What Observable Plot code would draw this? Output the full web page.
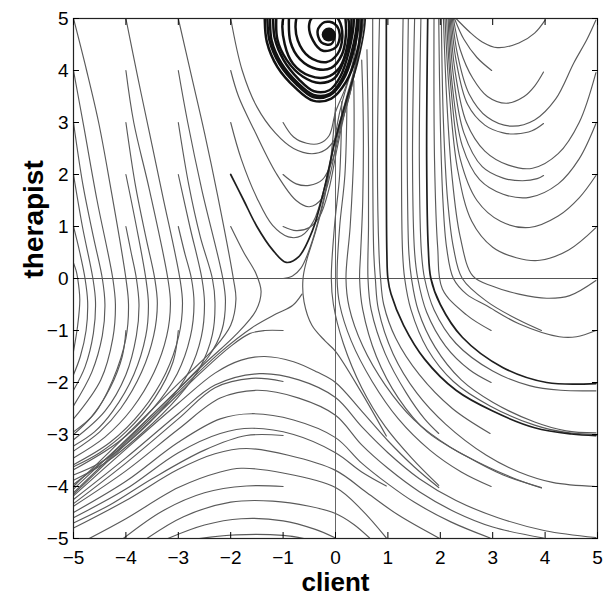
<!DOCTYPE html>
<html>
<head>
<meta charset="utf-8">
<script src="https://cdn.jsdelivr.net/npm/d3@7"></script>
<script src="https://cdn.jsdelivr.net/npm/@observablehq/plot@0.6"></script>
<style>
  html, body { margin: 0; padding: 0; background: #fff; }
</style>
</head>
<body>
<div id="chart"></div>
<script>
// ---------- axis ticks ----------
const xTicks = [-5, -4, -3, -2, -1, 0, 1, 2, 3, 4, 5];
const yTicks = [-5, -4, -3, -2, -1, 0, 1, 2, 3, 4, 5];
const xLabel = "client";
const yLabel = "therapist";

// ---------- streamlines (client, therapist) ----------
// upper-left lines that fall down and bend to the lower-left attractor
const descendingLeft = [
  [[-5,0.3],[-4.95,0.15],[-4.92,0],[-4.88,-0.4],[-4.92,-0.9],[-5,-1.4]],
  [[-5,1],[-4.88,0.5],[-4.78,0],[-4.73,-0.45],[-4.76,-1.0],[-4.87,-1.5],[-5,-1.85]],
  [[-5,2],[-4.83,1],[-4.63,0],[-4.58,-0.45],[-4.62,-1.05],[-4.78,-1.7],[-5,-2.15]],
  [[-5,3],[-4.82,1.8],[-4.62,0.8],[-4.45,0],[-4.4,-0.5],[-4.45,-1.1],[-4.65,-1.8],[-5,-2.45]],
  [[-5,4],[-4.8,2.9],[-4.55,1.5],[-4.25,0],[-4.2,-0.5],[-4.25,-1.15],[-4.48,-1.95],[-5,-2.7]],
  [[-5,5],[-4.75,4.0],[-4.52,3.0],[-4.3,1.8],[-4.0,0],[-3.95,-0.5],[-4.0,-1.15],[-4.25,-1.95],[-4.6,-2.6],[-5,-2.95]],
  [[-4,1],[-3.9,0.5],[-3.8,0],[-3.75,-0.5],[-3.8,-1.1],[-4.0,-1.85],[-4.4,-2.55],[-5,-3.1]],
  [[-4,2],[-3.8,1],[-3.62,0],[-3.57,-0.5],[-3.62,-1.1],[-3.85,-1.85],[-4.25,-2.55],[-4.6,-2.95],[-5,-3.22]],
  [[-4,3],[-3.82,1.8],[-3.62,0.8],[-3.45,0],[-3.4,-0.48],[-3.47,-1.1],[-3.7,-1.8],[-4.1,-2.5],[-4.5,-2.95],[-5,-3.32]],
  [[-4,4],[-3.85,3.0],[-3.55,1.7],[-3.2,0],[-3.15,-0.48],[-3.22,-1.1],[-3.46,-1.8],[-3.88,-2.5],[-4.4,-3.05],[-5,-3.45]],
  [[-4,5],[-3.78,3.9],[-3.55,2.8],[-3.3,1.6],[-2.97,0],[-2.92,-0.48],[-2.99,-1.1],[-3.24,-1.82],[-3.7,-2.55],[-4.3,-3.15],[-5,-3.58]],
  [[-3,1],[-2.88,0.5],[-2.75,0],[-2.7,-0.48],[-2.77,-1.12],[-3.02,-1.83],[-3.5,-2.52],[-4.15,-3.15],[-5,-3.68]],
  [[-3,2],[-2.78,1],[-2.55,0],[-2.5,-0.48],[-2.56,-1.12],[-2.8,-1.8],[-3.25,-2.45],[-3.9,-3.1],[-4.5,-3.55],[-5,-3.78]],
  [[-3,3],[-2.8,1.8],[-2.58,0.8],[-2.35,0],[-2.3,-0.46],[-2.35,-1.08],[-2.58,-1.7],[-3.02,-2.3],[-3.7,-2.98],[-4.4,-3.55],[-5,-3.88]],
  [[-3,4],[-2.82,3.0],[-2.55,1.7],[-2.15,0],[-2.1,-0.44],[-2.17,-1.0],[-2.42,-1.5],[-2.9,-2.02],[-3.6,-2.72],[-4.3,-3.4],[-5,-3.96]],
  [[-3,5],[-2.75,3.9],[-2.5,2.8],[-2.25,1.6],[-1.95,0],[-1.9,-0.4],[-2.0,-0.9],[-2.32,-1.35],[-2.9,-1.92],[-3.6,-2.62],[-4.3,-3.32],[-5,-4.0]],
  [[-2,1],[-1.75,0.5],[-1.52,0.1],[-1.42,-0.25],[-1.52,-0.62],[-1.9,-1.08],[-2.5,-1.64],[-3.2,-2.33],[-4.1,-3.2],[-5,-4.05]],
  [[-4,-1],[-4.07,-1.5],[-4.3,-2.1],[-4.65,-2.65],[-5,-3.0]],
  [[-3,-1],[-3.1,-1.6],[-3.45,-2.3],[-4.0,-2.95],[-4.5,-3.35],[-5,-3.62]]
];

// U-shaped lines that climb into the spiral
const spiralBound = [
  [[-2,5],[-1.78,4.0],[-1.5,3.3],[-1.15,2.8],[-0.8,2.5],[-0.45,2.4],[-0.2,2.47],[0.0,2.7],[0.15,3.1],[0.3,3.65],[0.43,4.4],[0.48,5.3]],
  [[-1,3],[-0.8,2.72],[-0.55,2.6],[-0.3,2.6],[-0.12,2.75],[0.0,3.2],[0.2,3.7],[0.38,4.4],[0.45,5.3]],
  [[-2,4],[-1.85,3.5],[-1.55,2.85],[-1.13,2.02],[-0.75,1.5],[-0.5,1.38],[-0.25,1.55],[-0.08,2.1],[0.05,2.8],[0.22,3.45],[0.4,4.2],[0.52,5.3]],
  [[-1,2],[-0.75,1.82],[-0.5,1.79],[-0.25,1.9],[-0.05,2.3],[0.12,3.0],[0.3,3.65],[0.44,4.4],[0.5,5.3]],
  [[-2,3],[-1.8,2.3],[-1.5,1.55],[-1.2,1.02],[-0.9,0.8],[-0.65,0.82],[-0.42,1.1],[-0.2,1.8],[0.0,2.7],[0.2,3.45],[0.4,4.2],[0.54,5.3]],
  [[-1,1],[-0.75,0.92],[-0.5,0.98],[-0.3,1.2],[-0.13,1.7],[0.03,2.5],[0.2,3.3],[0.38,4.05],[0.5,4.7],[0.56,5.3]],
  [[-1,0],[-0.82,0.05],[-0.66,0.2],[-0.52,0.5],[-0.36,1.0],[-0.2,1.65],[-0.06,2.4],[0.08,3.2],[0.3,4.0],[0.5,4.7],[0.6,5.3]]
];

// lines leaving the spiral downwards along client ~ 0
const centralBundle = [
  [[0.0,3.3],[-0.08,2.4],[-0.2,1.6],[-0.38,0.9],[-0.55,0.35],[-0.62,0.0],[-0.6,-0.45],[-0.45,-0.9],[-0.2,-1.2],[0,-1.4],[0.5,-2.2],[0.97,-3.03]],
  [[0.12,3.4],[0.08,2.0],[-0.02,1.0],[-0.08,0.0],[-0.04,-0.5],[0.15,-1.25],[0.5,-2.1],[0.95,-2.85],[1.45,-3.45],[1.97,-3.98]],
  [[0.22,3.5],[0.18,2.0],[0.08,1.0],[0.03,0.0],[0.08,-0.5],[0.3,-1.2],[0.7,-1.98],[1.2,-2.7],[1.8,-3.3],[2.4,-3.72],[2.97,-4.0]],
  [[0.35,3.8],[0.35,2.5],[0.28,1.0],[0.2,0.0],[0.26,-0.55],[0.52,-1.3],[0.95,-2.05],[1.5,-2.72],[2.2,-3.25],[2.9,-3.62],[3.45,-3.86],[3.93,-4.03]],
  [[0.5,4.2],[0.53,3.0],[0.52,1.5],[0.48,0.5],[0.46,0.0],[0.52,-0.6],[0.78,-1.5],[1.2,-2.3],[1.75,-2.95],[2.5,-3.42],[3.2,-3.78],[3.93,-4.02]],
  [[0.6,4.4],[0.63,2.5],[0.63,1.0],[0.62,0.0],[0.68,-0.6],[0.95,-1.45],[1.35,-2.2],[1.7,-2.7],[1.97,-2.98]]
];

// near-vertical lines from the top that sweep to the lower right
const fanArcs = [
  [[0.71,5.0],[0.71,2.27],[0.73,0.5],[0.76,0.0],[0.82,-0.6],[1.1,-1.45],[1.55,-2.2],[2.1,-2.8],[2.88,-3.4],[3.5,-3.72],[4.14,-3.92],[4.97,-4.0]],
  [[0.84,5.0],[0.8,2.27],[0.83,0.5],[0.86,0.0],[0.92,-0.5],[1.15,-1.15],[1.6,-1.85],[2.23,-2.5],[2.95,-2.98]],
  [[1.29,5.0],[1.26,2.27],[1.28,0.5],[1.32,0.0],[1.44,-0.6],[1.75,-1.35],[2.25,-1.98],[2.95,-2.45],[3.8,-2.82],[4.4,-2.96],[4.97,-3.0]],
  [[1.39,5.0],[1.37,2.27],[1.4,0.5],[1.45,0.0],[1.58,-0.62],[1.9,-1.32],[2.4,-1.95],[3.0,-2.38],[3.8,-2.76],[4.4,-2.93],[4.97,-2.97]],
  [[1.51,5.0],[1.47,2.27],[1.51,0.5],[1.57,0.0],[1.74,-0.65],[2.1,-1.3],[2.55,-1.75],[2.97,-2.0]],
  [[1.63,5.0],[1.6,2.27],[1.64,0.5],[1.7,0.0],[1.88,-0.6],[2.3,-1.25],[3.0,-1.78],[3.7,-2.06],[4.3,-2.15],[4.97,-2.16]],
  [[1.88,5.0],[1.89,2.27],[1.95,0.6],[2.04,-0.2],[2.5,-0.7],[2.97,-1.0]],
  [[1.97,5.0],[2.0,3.0],[2.05,1.5],[2.12,0.6],[2.25,0.0],[2.5,-0.3],[2.88,-0.52],[3.5,-0.87],[4.27,-1.12],[4.6,-1.12],[4.97,-1.0]],
  [[2.02,5.0],[2.06,3.0],[2.14,1.5],[2.25,0.6],[2.42,0.0],[2.9,-0.45],[3.5,-0.8],[3.93,-1.0]],
  [[2.06,5.0],[2.12,3.5],[2.22,2.0],[2.38,0.8],[2.62,0.05],[3.0,-0.15],[3.5,-0.3],[4.03,-0.38],[4.47,-0.33],[4.97,-0.04]]
];

// U-shaped lines in the upper right
const upperRightU = [
  [[2.3,5.0],[2.55,4.75],[2.8,4.55],[3.09,4.44],[3.5,4.53],[3.8,4.72],[4.0,4.97]],
  [[2.27,5.0],[2.45,4.6],[2.7,4.25],[2.98,4.0]],
  [[2.25,5.0],[2.38,4.4],[2.62,3.85],[2.9,3.5],[3.26,3.37],[3.6,3.5],[3.8,3.7],[3.97,3.97]],
  [[2.23,5.0],[2.33,4.3],[2.55,3.55],[2.9,3.1],[3.35,2.93],[3.8,3.05],[4.2,3.45],[4.55,4.15],[4.8,4.6],[4.97,4.97]],
  [[2.21,5.0],[2.3,4.2],[2.52,3.35],[2.85,2.95],[3.2,2.8],[3.45,2.78],[3.75,2.84],[3.97,2.98]],
  [[2.19,5.0],[2.28,4.0],[2.5,3.0],[2.85,2.45],[3.3,2.18],[3.76,2.12],[4.25,2.4],[4.65,3.0],[4.97,3.96]],
  [[2.17,5.0],[2.25,3.9],[2.45,2.8],[2.8,2.15],[3.2,1.93],[3.57,1.88],[3.85,1.92],[3.97,1.98]],
  [[2.15,5.0],[2.22,3.8],[2.42,2.55],[2.75,1.9],[3.2,1.62],[3.7,1.56],[4.25,1.82],[4.65,2.3],[4.97,2.98]],
  [[2.12,5.0],[2.2,3.7],[2.38,2.3],[2.7,1.5],[3.15,1.1],[3.7,0.98],[4.25,1.2],[4.65,1.55],[4.97,1.98]],
  [[2.09,5.0],[2.17,3.6],[2.33,2.1],[2.6,1.1],[3.0,0.6],[3.45,0.4],[3.9,0.35],[4.45,0.55],[4.97,0.98]]
];

// humps in the lower half
const lowerHumps = [
  [[-5,-4.12],[-4,-3.15],[-3,-2.18],[-2.2,-1.42],[-1.6,-0.95],[-1.13,-0.68],[-0.82,-0.52],[-0.64,-0.3]],
  [[-1,-1.0],[-1.35,-1.0],[-1.64,-1.06],[-2.02,-1.32],[-2.6,-1.84],[-3.3,-2.52],[-4.1,-3.28],[-5,-4.15]],
  [[-5,-4.18],[-4,-3.28],[-3,-2.4],[-2.3,-1.82],[-1.8,-1.57],[-1.35,-1.5],[-0.8,-1.6],[-0.35,-1.8],[0,-2.0],[0.5,-2.55],[1.0,-3.12],[1.5,-3.62],[1.97,-4.02]],
  [[-1,-1.98],[-1.6,-1.92],[-2.3,-2.1],[-3,-2.7],[-4,-3.55],[-5,-4.33]],
  [[-5,-4.25],[-4,-3.45],[-3,-2.6],[-2.3,-2.05],[-1.45,-1.83],[-0.7,-1.95],[0,-2.29],[0.5,-2.85],[1.0,-3.35],[1.6,-3.85],[2.3,-4.27],[3.1,-4.6],[4.0,-4.85],[4.97,-4.98]],
  [[-5,-4.38],[-4,-3.7],[-3,-2.9],[-2.2,-2.3],[-1.5,-2.15],[-0.7,-2.3],[0,-2.63],[0.5,-3.2],[1.0,-3.65],[1.6,-4.1],[2.3,-4.5],[3.0,-4.78],[3.97,-4.99]],
  [[-5,-4.5],[-4,-3.9],[-3,-3.15],[-2.2,-2.7],[-1.6,-2.6],[-0.8,-2.72],[0,-3.06],[0.5,-3.55],[1.0,-3.95],[1.5,-4.3],[2.2,-4.68],[2.95,-4.99]],
  [[-5,-4.6],[-4,-4.05],[-3,-3.35],[-2.2,-2.98],[-1.6,-2.88],[-0.8,-3.0],[0,-3.35],[0.5,-3.72],[0.97,-3.99]],
  [[-1,-3.02],[-1.7,-3.02],[-2.5,-3.3],[-3.5,-3.85],[-4.3,-4.35],[-5,-4.7]],
  [[-5,-4.8],[-4,-4.27],[-3,-3.67],[-2.3,-3.37],[-1.7,-3.27],[-0.9,-3.4],[0,-3.69],[0.6,-4.12],[1.2,-4.55],[1.97,-4.99]],
  [[-4.7,-5],[-4,-4.62],[-3,-4.02],[-2.2,-3.72],[-1.8,-3.65],[-1.0,-3.74],[0,-4.02],[0.5,-4.45],[0.97,-4.99]],
  [[-1,-4.0],[-1.7,-3.99],[-2.5,-4.12],[-3.3,-4.47],[-4.05,-5]],
  [[-3.6,-5],[-2.9,-4.58],[-2.0,-4.3],[-1.2,-4.28],[-0.5,-4.38],[0,-4.52],[0.35,-4.73],[0.65,-4.99]],
  [[-3.2,-5],[-2.5,-4.74],[-1.8,-4.62],[-1.0,-4.66],[-0.4,-4.82],[0,-4.99]],
  [[-2.6,-5],[-1.9,-4.93],[-1.0,-4.94],[-0.6,-5]]
];

// heavier lines
const darkLines = [
  [[-2,2],[-1.75,1.5],[-1.5,1.0],[-1.2,0.55],[-0.94,0.31],[-0.7,0.42],[-0.44,0.92],[-0.22,1.7],[-0.02,2.6],[0.2,3.4],[0.42,4.15],[0.55,4.8],[0.58,5.3]],
  [[1.76,5.0],[1.74,2.27],[1.77,0.6],[1.82,0.0],[2.0,-0.5],[2.42,-1.13],[3.19,-1.71],[4.03,-2.0],[4.97,-2.02]],
  [[0.97,5.0],[0.97,2.27],[0.98,0.5],[1.0,0.0],[1.06,-0.3],[1.3,-0.9],[1.7,-1.55],[2.3,-2.15],[3.0,-2.55],[3.8,-2.87],[4.5,-2.99],[4.97,-3.02]]
];

// the spiral (upper part is cut by the frame)
const spiralLines = [
  [[-1.29,5.25],[-1.3,4.99],[-1.26,4.58],[-1.07,4.13],[-0.75,3.74],[-0.43,3.49],[-0.11,3.52],[0.14,3.81],[0.33,4.32],[0.44,4.99],[0.35,5.4],[-0.2,5.55],[-0.8,5.35],
   [-1.0,4.99],[-0.97,4.51],[-0.81,4.13],[-0.5,3.9],[-0.18,3.87],[0.08,4.06],[0.22,4.45],[0.25,4.96],[0.12,5.25],[-0.3,5.35],[-0.68,5.15],
   [-0.75,4.99],[-0.72,4.58],[-0.5,4.26],[-0.18,4.16],[0.04,4.32],[0.13,4.64],[0.07,4.96],[-0.1,5.12],[-0.38,5.08],
   [-0.5,4.9],[-0.43,4.58],[-0.24,4.38],[0.01,4.45],[0.08,4.7],[-0.02,4.9],[-0.21,4.93],
   [-0.34,4.77],[-0.27,4.54],[-0.08,4.51],[-0.02,4.7],[-0.11,4.8],[-0.2,4.72],[-0.13,4.64],[-0.08,4.68]],
  [[-1.34,5.25],[-1.35,4.99],[-1.31,4.55],[-1.11,4.07],[-0.77,3.67],[-0.43,3.42],[-0.08,3.46],[0.2,3.78],[0.4,4.3],[0.5,4.99],[0.45,5.4]],
  [[-1.25,5.25],[-1.25,4.99],[-1.22,4.58],[-1.04,4.15],[-0.73,3.77],[-0.42,3.53],[-0.11,3.55],[0.12,3.83],[0.3,4.32],[0.41,4.99],[0.33,5.4]],
  [[-1.19,5.25],[-1.19,4.99],[-1.16,4.62],[-0.99,4.2],[-0.7,3.83],[-0.41,3.6],[-0.12,3.62],[0.09,3.88],[0.25,4.35],[0.35,4.99],[0.28,5.4]],
  [[-1.12,5.2],[-1.11,4.6],[-0.93,4.2],[-0.62,3.88],[-0.3,3.76],[-0.02,3.85],[0.17,4.22],[0.29,4.7],[0.3,5.2]],
  [[-0.88,5.2],[-0.86,4.55],[-0.68,4.22],[-0.36,4.03],[-0.08,4.05],[0.12,4.3],[0.2,4.7],[0.18,5.1]]
];
const spiralCenter = [[-0.13, 4.69]];

// ---------- build tables ----------
function toRows(lines, prefix) {
  return lines.flatMap((pts, i) => pts.map(([x, y]) => ({id: prefix + i, x, y})));
}
const thinRows = [
  ...toRows(descendingLeft, "dl"),
  ...toRows(spiralBound, "sb"),
  ...toRows(centralBundle, "cb"),
  ...toRows(fanArcs, "fa"),
  ...toRows(upperRightU, "ur"),
  ...toRows(lowerHumps, "lh")
];
const darkRows = toRows(darkLines, "dk");
const spiralRows = toRows(spiralLines, "sp");

const minus = d => (d < 0 ? "\u2212" + Math.abs(d) : String(d));
const font = '"Liberation Sans", Arial, Helvetica, sans-serif';

const chart = Plot.plot({
  width: 607,
  height: 596,
  marginLeft: 73,
  marginRight: 10,
  marginTop: 18,
  marginBottom: 58,
  x: {domain: [-5, 5]},
  y: {domain: [-5, 5]},
  style: {fontFamily: font, fontSize: "19px", color: "#000", background: "#fff"},
  marks: [
    Plot.ruleY([0], {stroke: "#555", strokeWidth: 1}),
    Plot.ruleX([0], {stroke: "#666", strokeWidth: 1}),
    Plot.line(thinRows, {x: "x", y: "y", z: "id", stroke: "#5a5a5a", strokeWidth: 1.15, curve: "catmull-rom", clip: true}),
    Plot.line(darkRows, {x: "x", y: "y", z: "id", stroke: "#1e1e1e", strokeWidth: 1.7, curve: "catmull-rom", clip: true}),
    Plot.line(spiralRows, {x: "x", y: "y", z: "id", stroke: "#111", strokeWidth: 2.5, curve: "catmull-rom", clip: true}),
    Plot.dot(spiralCenter, {x: d => d[0], y: d => d[1], r: 7, fill: "#111", stroke: "none", clip: true}),
    Plot.frame({stroke: "#222", strokeWidth: 1.2}),
    Plot.axisX(xTicks, {anchor: "bottom", tickSize: -6, tickPadding: 18, tickFormat: minus, label: null, fontSize: 19}),
    Plot.axisX(xTicks, {anchor: "top", tickSize: -6, tickFormat: () => "", label: null}),
    Plot.axisY(yTicks, {anchor: "left", tickSize: -6, tickPadding: 11, tickFormat: minus, label: null, fontSize: 19}),
    Plot.axisY(yTicks, {anchor: "right", tickSize: -6, tickFormat: () => "", label: null}),
    Plot.text([xLabel], {text: d => d, frameAnchor: "bottom", dy: 44, lineAnchor: "middle", fontSize: 26, fontWeight: "bold", fill: "#000"}),
    Plot.text([yLabel], {text: d => d, frameAnchor: "left", dx: -39, rotate: -90, lineAnchor: "middle", fontSize: 28, fontWeight: "bold", fill: "#000"})
  ]
});
document.getElementById("chart").appendChild(chart);
</script>
</body>
</html>
